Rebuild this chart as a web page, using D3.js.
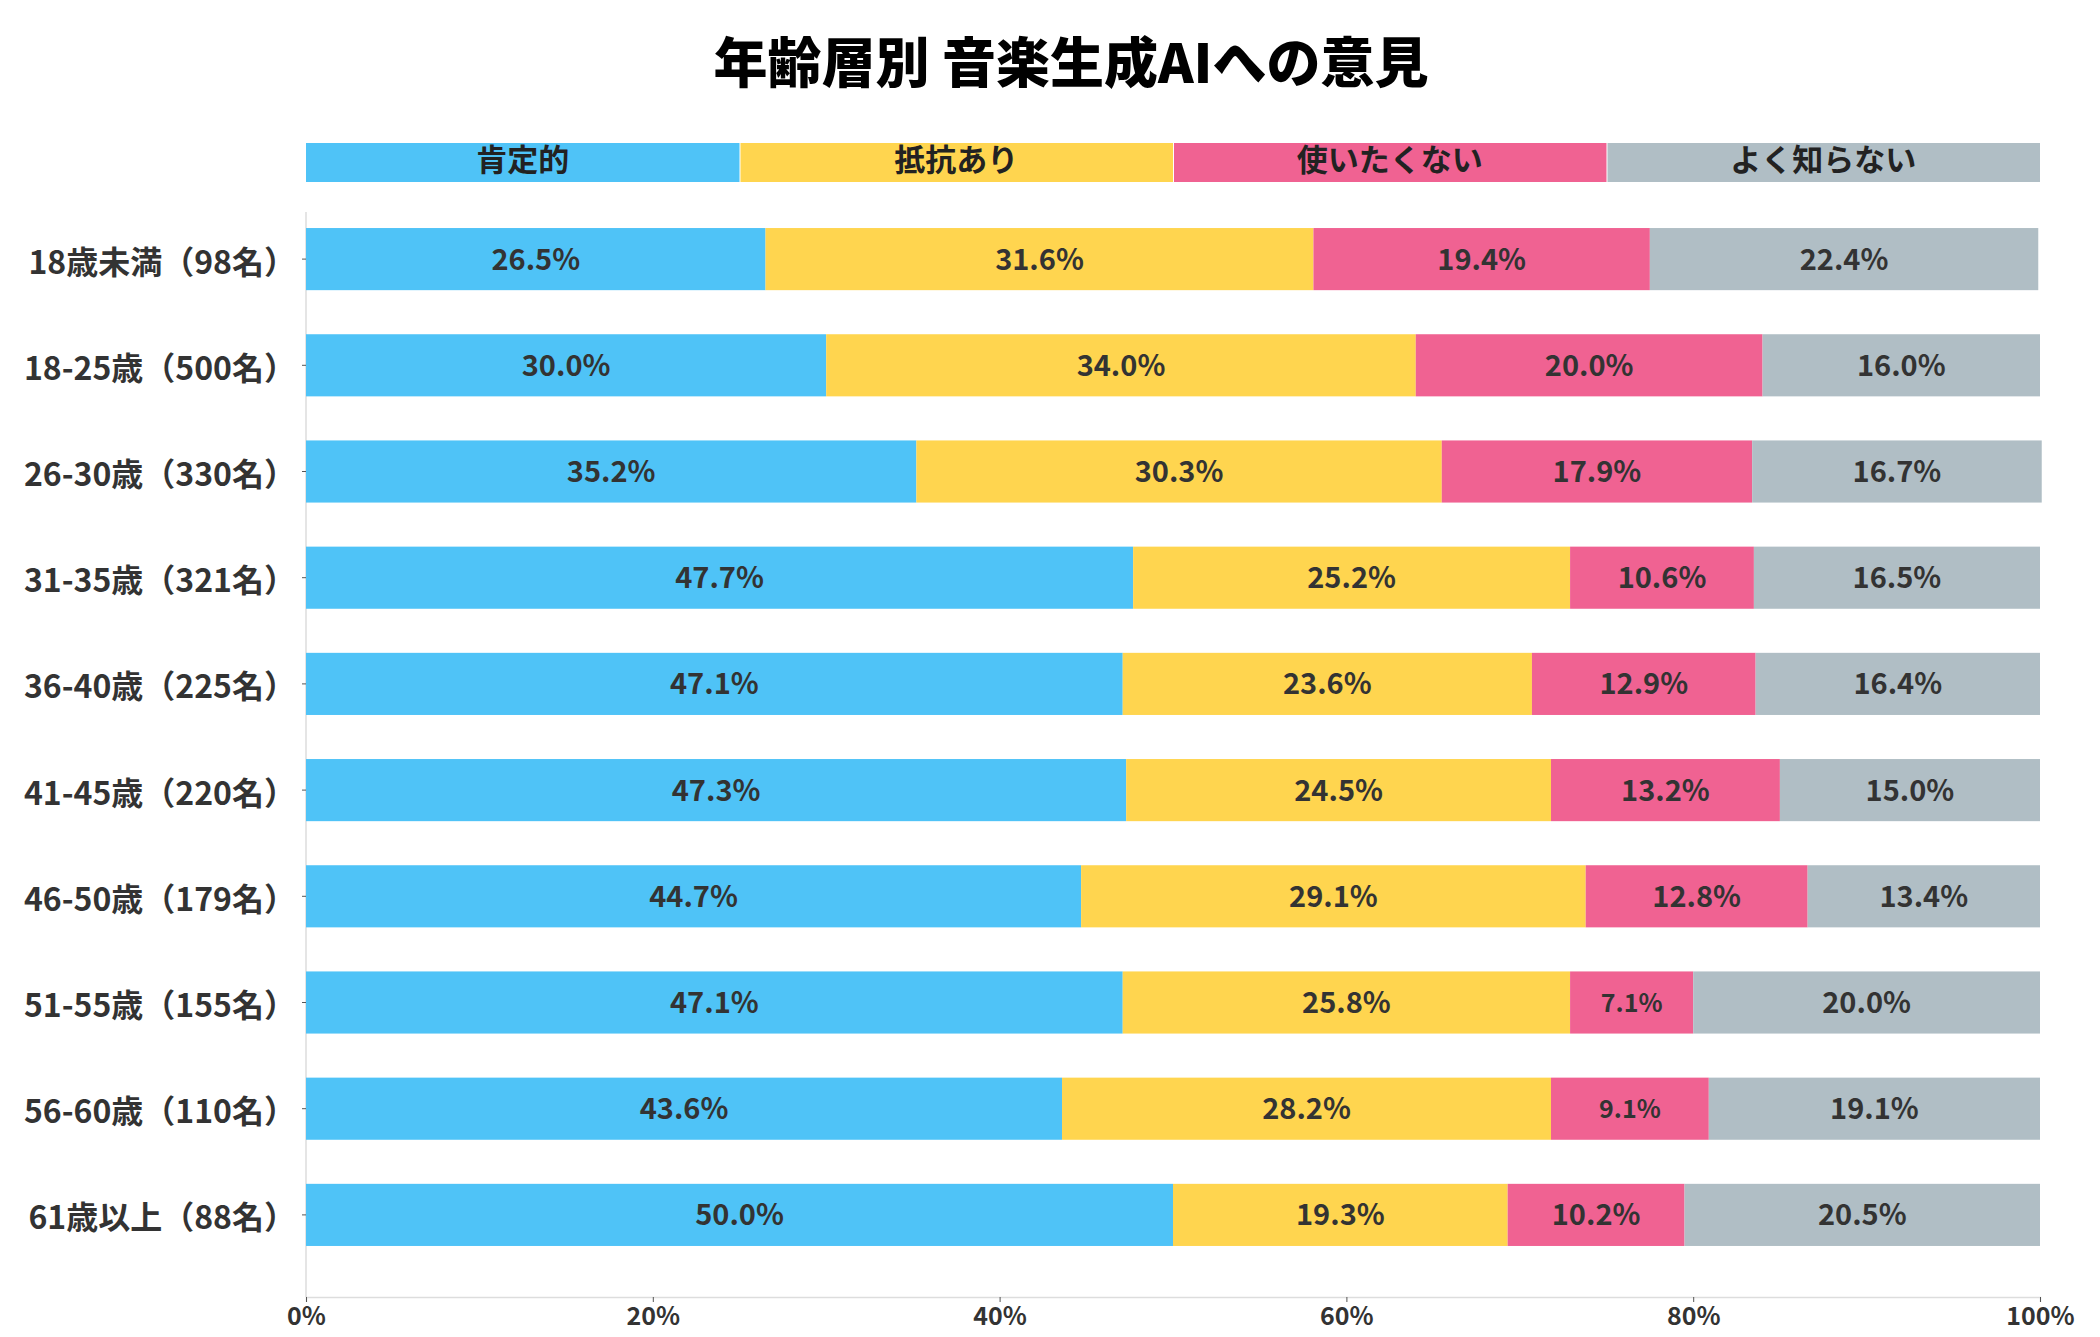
<!DOCTYPE html>
<html><head><meta charset="utf-8">
<script src="https://cdn.jsdelivr.net/npm/d3@7"></script>
<style>
html,body{margin:0;padding:0;background:#fff;}
svg text{font-family:"Noto Sans CJK JP","Noto Sans",sans-serif;}
</style></head>
<body>
<svg id="chart" width="2100" height="1337"></svg>
<script>
const title = "年齢層別 音楽生成AIへの意見";
const categories = ["18歳未満（98名）","18-25歳（500名）","26-30歳（330名）","31-35歳（321名）","36-40歳（225名）","41-45歳（220名）","46-50歳（179名）","51-55歳（155名）","56-60歳（110名）","61歳以上（88名）"];
const seriesNames = ["肯定的","抵抗あり","使いたくない","よく知らない"];
const seriesColors = ["#4FC3F7","#FFD54F","#F06292","#B0BEC5"];
const positive = [26.5,30.0,35.2,47.7,47.1,47.3,44.7,47.1,43.6,50.0];
const resistant = [31.6,34.0,30.3,25.2,23.6,24.5,29.1,25.8,28.2,19.3];
const unwilling = [19.4,20.0,17.9,10.6,12.9,13.2,12.8,7.1,9.1,10.2];
const unknown = [22.4,16.0,16.7,16.5,16.4,15.0,13.4,20.0,19.1,20.5];
const xTicks = [0,20,40,60,80,100];

const series = [positive,resistant,unwilling,unknown];
const svg = d3.select("#chart");
const pLeft = 306, pRight = 2040, pTop = 212, pBottom = 1297;

const x = d3.scaleLinear().domain([0,100]).range([pLeft,pRight]);
const y = d3.scaleBand().domain(categories).range([206,1268]).paddingInner(0.415).paddingOuter(0.2075);

// title
svg.append("text").attr("x",1071).attr("y",83).attr("text-anchor","middle")
  .attr("font-size",54).attr("font-weight",900).attr("fill","#000").text(title);

// legend
const lw = (pRight-pLeft)/4;
const lg = svg.append("g");
seriesNames.forEach((n,i)=>{
  lg.append("rect").attr("x",pLeft+i*lw+(i>0?1:0)).attr("y",143).attr("width",lw-(i>0?1:0)).attr("height",39).attr("fill",seriesColors[i]);
  lg.append("text").attr("x",pLeft+i*lw+lw/2).attr("y",160).attr("dy","0.36em").attr("text-anchor","middle")
    .attr("font-size",31).attr("font-weight",700).attr("fill","#222").text(n);
});

// left axis line
svg.append("line").attr("x1",pLeft).attr("x2",pLeft).attr("y1",pTop).attr("y2",pBottom).attr("stroke","#ddd").attr("stroke-width",1.5);

// bars
const stackData = categories.map((c,i)=>{
  let cum=0; return series.map((s,j)=>{const d={cat:c,j,v:s[i],x0:cum,x1:cum+s[i]}; cum+=s[i]; return d;});
}).flat();
svg.append("g").selectAll("rect").data(stackData).join("rect")
  .attr("x",d=>x(d.x0)).attr("width",d=>x(d.x1)-x(d.x0))
  .attr("y",d=>y(d.cat)).attr("height",y.bandwidth()).attr("fill",d=>seriesColors[d.j]);
svg.append("g").selectAll("text").data(stackData).join("text")
  .attr("x",d=>(x(d.x0)+x(d.x1))/2).attr("y",d=>y(d.cat)+y.bandwidth()/2).attr("dy","0.36em")
  .attr("text-anchor","middle").attr("font-weight",700).attr("fill","#333")
  .attr("font-size",d=>d.v<10?25:29).text(d=>d.v.toFixed(1)+"%");

// left axis
const ya = svg.append("g").attr("transform",`translate(${pLeft},0)`).call(d3.axisLeft(y).tickSize(4).tickPadding(6));
ya.select(".domain").remove();
ya.selectAll(".tick line").attr("stroke","#555");
ya.selectAll(".tick text").attr("font-size",32).attr("font-weight",700).attr("fill","#333").attr("dy","0.45em")
  .style("font-family",'"Noto Sans CJK JP",sans-serif');

// bottom axis
const xa = svg.append("g").attr("transform",`translate(0,${pBottom})`).call(d3.axisBottom(x).tickValues(xTicks).tickFormat(d=>d+"%").tickSize(5).tickPadding(5));
xa.select(".domain").attr("stroke","#ddd").attr("stroke-width",1.5);
xa.selectAll(".tick line").attr("stroke","#555");
xa.selectAll(".tick text").attr("font-size",25).attr("font-weight",700).attr("fill","#333")
  .style("font-family",'"Noto Sans CJK JP",sans-serif');
</script>
</body></html>
